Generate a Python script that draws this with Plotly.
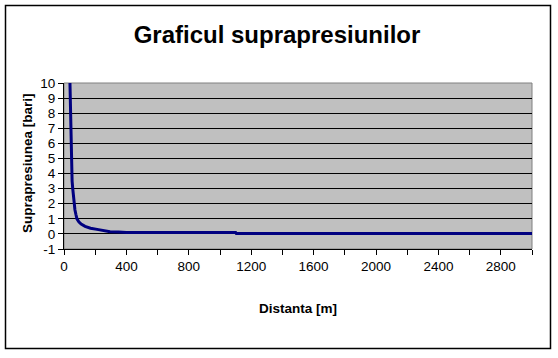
import plotly.graph_objects as go

distance = [34, 38, 40, 42, 44, 47, 49, 52, 56, 60, 64, 70, 76, 83, 95, 110, 135, 170, 212, 250, 295, 350, 400, 600, 800, 1000, 1100, 1105, 1500, 2000, 2500, 3000]
pressure = [12.0, 10.0, 8.5, 7.0, 6.5, 5.0, 4.0, 3.5, 3.0, 2.5, 2.0, 1.6, 1.3, 1.0, 0.8, 0.65, 0.5, 0.38, 0.3, 0.22, 0.15, 0.12, 0.1, 0.1, 0.1, 0.1, 0.1, 0.02, 0.02, 0.02, 0.02, 0.02]

x_tickvals = list(range(0, 3001, 200))
x_ticktext = [str(v) if v % 400 == 0 else "" for v in x_tickvals]
y_tickvals = list(range(-1, 11))
y_ticktext = [str(v) for v in y_tickvals]

W, H = 558, 358
L, R, T, B = 64, 532, 83, 249
pw, ph = R - L, B - T

def px(xpix):
    return (xpix - L) / pw

def py(ypix):
    return (B - ypix) / ph

fig = go.Figure()
fig.add_trace(go.Scatter(x=distance, y=pressure, mode="lines",
                         line=dict(color="#000080", width=3), hoverinfo="skip",
                         cliponaxis=True))

font_family = "Liberation Sans, Arial, sans-serif"

fig.update_layout(
    width=W, height=H,
    margin=dict(l=L, r=W - R, t=T, b=H - B, pad=0, autoexpand=False),
    paper_bgcolor="white",
    plot_bgcolor="#C0C0C0",
    showlegend=False,
    font=dict(family=font_family, size=13, color="black"),
    title=dict(text="<b>Graficul suprapresiunilor</b>", x=277 / W, xanchor="center",
               y=1 - 35 / H, yanchor="middle",
               font=dict(family=font_family, size=24, color="black")),
    xaxis=dict(range=[0, 3000], tickvals=x_tickvals, ticktext=x_ticktext,
               ticks="outside", ticklen=5, tickcolor="black", tickwidth=1,
               showline=True, linecolor="black", linewidth=1,
               showgrid=False, zeroline=False, mirror=False, automargin=False,
               tickfont=dict(size=13.5), fixedrange=True,
               title=dict(text="")),
    yaxis=dict(range=[-1, 10], tickvals=y_tickvals, ticktext=y_ticktext,
               ticks="outside", ticklen=5, tickcolor="black", tickwidth=1,
               showline=True, linecolor="black", linewidth=1,
               showgrid=True, gridcolor="black", gridwidth=1, automargin=False,
               zeroline=False, tickfont=dict(size=13.5), fixedrange=True,
               title=dict(text="")),
    annotations=[
        dict(text="<b>Distanta [m]</b>", xref="paper", yref="paper",
             x=px(298), y=py(308), xanchor="center", yanchor="middle",
             showarrow=False, font=dict(size=13.5)),
        dict(text="<b>Suprapresiunea [bari]</b>", xref="paper", yref="paper",
             x=px(27), y=py(163), xanchor="center", yanchor="middle",
             showarrow=False, textangle=-90, font=dict(size=13.5)),
    ],
    shapes=[
        dict(type="rect", xref="paper", yref="paper", x0=0, x1=1, y0=0, y1=1,
             line=dict(color="#808080", width=1), layer="below"),
        dict(type="rect", xref="paper", yref="paper",
             x0=px(5.5), x1=px(550.5), y0=py(5.5), y1=py(348.5),
             line=dict(color="black", width=1.5)),
    ],
)

fig.write_html("out.html", config={"displayModeBar": False},
               post_script="document.body.style.margin='0';document.body.style.overflow='hidden';")
